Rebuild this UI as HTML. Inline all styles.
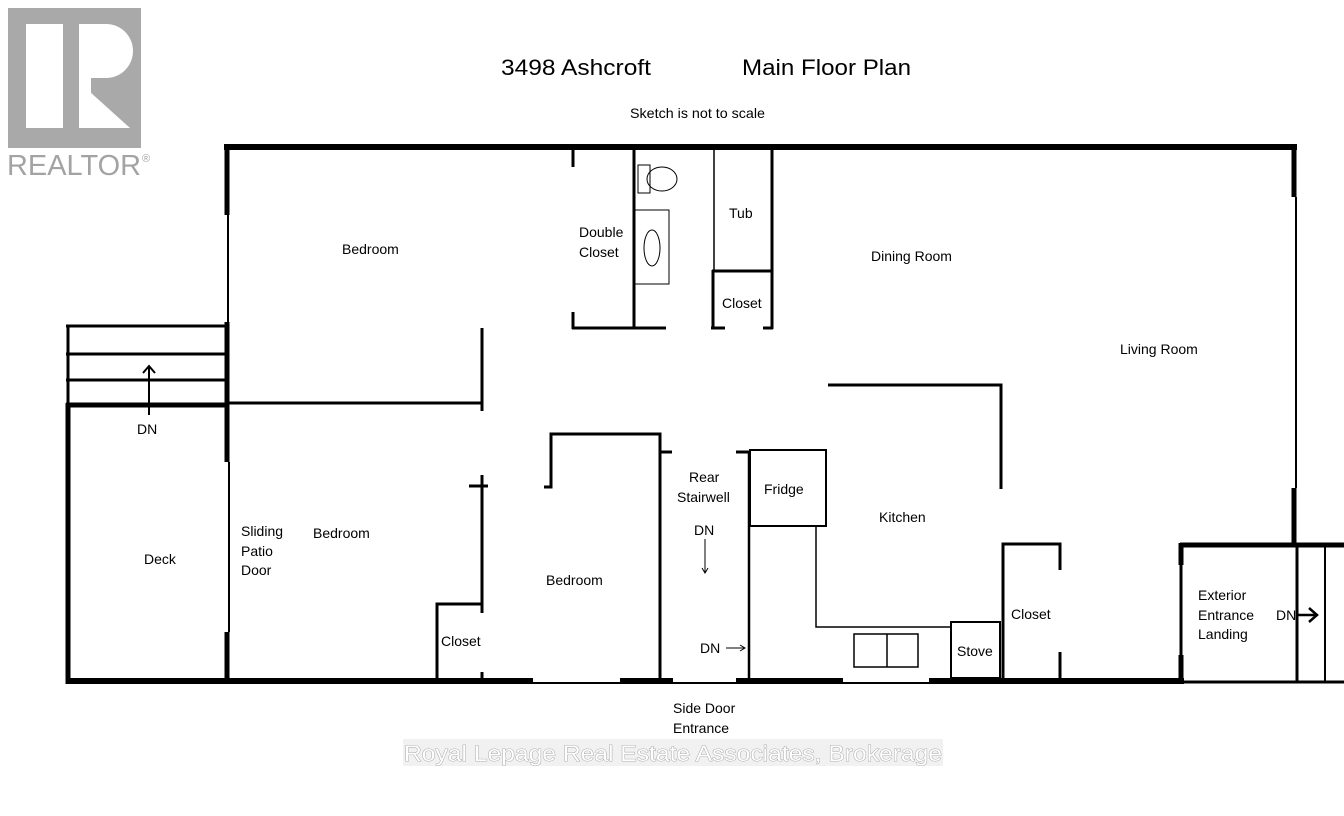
<!DOCTYPE html>
<html><head><meta charset="utf-8"><style>
html,body{margin:0;padding:0;background:#fff}
svg{display:block}
text{font-family:"Liberation Sans",sans-serif;fill:#000}
</style></head><body>
<svg width="1344" height="816" viewBox="0 0 1344 816" xmlns="http://www.w3.org/2000/svg">
<!-- logo -->
<rect x="8" y="8" width="133" height="140" fill="#a9a9a9"/>
<rect x="26" y="24" width="37" height="104" fill="#fff"/>
<path d="M79 24 H106 A27 27 0 0 1 106 78 H79 Z" fill="#fff"/>
<path d="M79 82 L130 128 H79 Z" fill="#fff"/>
<rect x="79" y="76" width="12" height="52" fill="#fff"/>
<text x="7" y="175" font-size="29" textLength="134" lengthAdjust="spacingAndGlyphs" style="fill:#a3a3a3">REALTOR</text>
<text x="142" y="162" font-size="11" style="fill:#a3a3a3">®</text>

<text x="501" y="75" font-size="22" textLength="150" lengthAdjust="spacingAndGlyphs">3498 Ashcroft</text>
<text x="742" y="75" font-size="22" textLength="169" lengthAdjust="spacingAndGlyphs">Main Floor Plan</text>
<text x="630" y="118" font-size="14" textLength="135" lengthAdjust="spacingAndGlyphs">Sketch is not to scale</text>

<g stroke="#000" fill="none" stroke-linecap="butt">
<line x1="224" y1="147" x2="1297" y2="147" stroke-width="6"/>
<line x1="1294" y1="144" x2="1294" y2="197" stroke-width="5"/>
<line x1="1296" y1="197" x2="1296" y2="488" stroke-width="2"/>
<line x1="1294" y1="488" x2="1294" y2="547" stroke-width="5"/>
<line x1="227" y1="145" x2="227" y2="215" stroke-width="5"/>
<line x1="228" y1="215" x2="228" y2="322" stroke-width="2"/>
<line x1="227" y1="322" x2="227" y2="462" stroke-width="5"/>
<line x1="229" y1="462" x2="229" y2="632" stroke-width="2"/>
<line x1="227" y1="632" x2="227" y2="683" stroke-width="5"/>
<line x1="68" y1="403" x2="68" y2="684" stroke-width="5"/>
<line x1="66" y1="681" x2="533" y2="681" stroke-width="6"/>
<line x1="533" y1="683" x2="620" y2="683" stroke-width="2"/>
<line x1="620" y1="681" x2="673" y2="681" stroke-width="6"/>
<line x1="673" y1="683" x2="736" y2="683" stroke-width="2"/>
<line x1="736" y1="681" x2="843" y2="681" stroke-width="6"/>
<line x1="843" y1="683" x2="929" y2="683" stroke-width="2"/>
<line x1="929" y1="681" x2="1184" y2="681" stroke-width="6"/>
<line x1="1182" y1="682" x2="1344" y2="682" stroke-width="3"/>
<line x1="66" y1="326" x2="227" y2="326" stroke-width="3"/>
<line x1="68" y1="326" x2="68" y2="405" stroke-width="3"/>
<line x1="66" y1="354" x2="227" y2="354" stroke-width="3"/>
<line x1="66" y1="380" x2="227" y2="380" stroke-width="3"/>
<line x1="66" y1="405" x2="229" y2="405" stroke-width="5"/>
<line x1="149" y1="415" x2="149" y2="366" stroke-width="2"/>
<polyline points="143,373 149,366 155,373" stroke-width="2"/>
<line x1="227" y1="403" x2="483" y2="403" stroke-width="3"/>
<line x1="482" y1="328" x2="482" y2="411" stroke-width="3"/>
<line x1="482" y1="475" x2="482" y2="613" stroke-width="3"/>
<line x1="469" y1="486" x2="488" y2="486" stroke-width="3"/>
<line x1="482" y1="672" x2="482" y2="681" stroke-width="3"/>
<polyline points="437,681 437,604 483,604" stroke-width="3"/>
<polyline points="544,487 551,487 551,434 660,434 660,681" stroke-width="3"/>
<line x1="660" y1="452" x2="672" y2="452" stroke-width="3"/>
<line x1="736" y1="452" x2="750" y2="452" stroke-width="3"/>
<line x1="749" y1="451" x2="749" y2="681" stroke-width="2.5"/>
<line x1="705" y1="539" x2="705" y2="572" stroke-width="1"/>
<polyline points="702,568 705,573 708,568" stroke-width="1"/>
<line x1="726" y1="648" x2="744" y2="648" stroke-width="1"/>
<polyline points="740,645 745,648 740,651" stroke-width="1"/>
<rect x="750" y="450" width="76" height="76" stroke-width="2"/>
<polyline points="816,526 816,627 950,627" stroke-width="1.5"/>
<rect x="854" y="634" width="64" height="33" stroke-width="1.5"/>
<line x1="887" y1="634" x2="887" y2="667" stroke-width="1.5"/>
<rect x="951" y="622" width="49" height="56" stroke-width="2"/>
<polyline points="828,385 1001,385 1001,489" stroke-width="3"/>
<polyline points="1003,681 1003,544 1060,544 1060,570" stroke-width="3"/>
<line x1="1060" y1="652" x2="1060" y2="681" stroke-width="3"/>
<line x1="1180" y1="545" x2="1344" y2="545" stroke-width="5"/>
<line x1="1181" y1="543" x2="1181" y2="565" stroke-width="5"/>
<line x1="1181" y1="565" x2="1181" y2="655" stroke-width="3"/>
<line x1="1181" y1="655" x2="1181" y2="683" stroke-width="5"/>
<line x1="1297" y1="545" x2="1297" y2="682" stroke-width="3"/>
<line x1="1325" y1="545" x2="1325" y2="682" stroke-width="2"/>
<line x1="1297" y1="615" x2="1316" y2="615" stroke-width="2.5"/>
<polyline points="1309,608 1317,615 1309,622" stroke-width="2.5"/>
<line x1="634" y1="148" x2="634" y2="329" stroke-width="3"/>
<line x1="573" y1="150" x2="573" y2="167" stroke-width="3"/>
<line x1="573" y1="312" x2="573" y2="329" stroke-width="3"/>
<line x1="572" y1="328" x2="666" y2="328" stroke-width="3"/>
<rect x="638" y="165" width="12" height="28" stroke-width="1"/>
<ellipse cx="662" cy="179" rx="15" ry="12" stroke-width="1"/>
<rect x="635" y="210" width="34" height="74" stroke-width="1"/>
<ellipse cx="652" cy="248" rx="8" ry="18" stroke-width="1"/>
<line x1="714" y1="150" x2="714" y2="270" stroke-width="1.5"/>
<line x1="772" y1="148" x2="772" y2="329" stroke-width="3"/>
<line x1="712" y1="271" x2="773" y2="271" stroke-width="3"/>
<line x1="713" y1="270" x2="713" y2="329" stroke-width="3"/>
<line x1="711" y1="328" x2="725" y2="328" stroke-width="3"/>
<line x1="763" y1="328" x2="773" y2="328" stroke-width="3"/>
</g>

<g font-size="14">
<text x="342" y="254">Bedroom</text>
<text x="579" y="237">Double</text>
<text x="579" y="257">Closet</text>
<text x="729" y="218">Tub</text>
<text x="722" y="308">Closet</text>
<text x="871" y="261">Dining Room</text>
<text x="1120" y="354">Living Room</text>
<text x="137" y="434">DN</text>
<text x="144" y="564">Deck</text>
<text x="241" y="536">Sliding</text>
<text x="241" y="556">Patio</text>
<text x="241" y="575">Door</text>
<text x="313" y="538">Bedroom</text>
<text x="441" y="646">Closet</text>
<text x="546" y="585">Bedroom</text>
<text x="689" y="482">Rear</text>
<text x="677" y="502">Stairwell</text>
<text x="694" y="535">DN</text>
<text x="700" y="653">DN</text>
<text x="764" y="494">Fridge</text>
<text x="879" y="522">Kitchen</text>
<text x="957" y="656">Stove</text>
<text x="1011" y="619">Closet</text>
<text x="1198" y="600">Exterior</text>
<text x="1198" y="620">Entrance</text>
<text x="1198" y="639">Landing</text>
<text x="1276" y="620">DN</text>
<text x="673" y="713">Side Door</text>
<text x="673" y="733">Entrance</text>
</g>
<rect x="403" y="739" width="540" height="27" fill="#d8d8d8" opacity="0.35"/>
<text x="404" y="761" font-size="22" textLength="538" lengthAdjust="spacingAndGlyphs" style="fill:#fff;stroke:#9a9a9a;stroke-width:0.8;paint-order:stroke">Royal Lepage Real Estate Associates, Brokerage</text>
</svg>
</body></html>
